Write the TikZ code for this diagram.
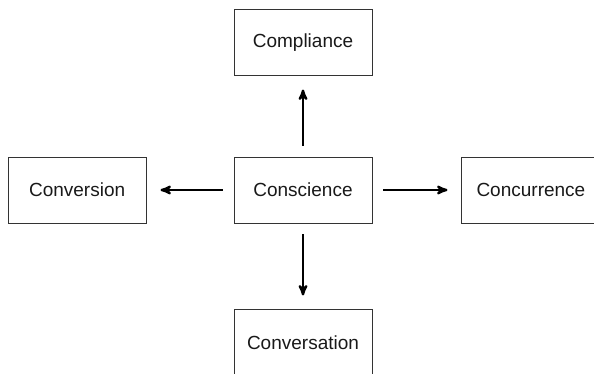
\documentclass[tikz,border=0pt]{standalone}
\usepackage{fontspec}
\setmainfont{Liberation Sans}
\usetikzlibrary{arrows}
\usetikzlibrary{positioning}

\begin{document}
\begin{tikzpicture}[->,>=stealth',auto,
                    main node/.style={rectangle,draw=black!80,line width=0.9pt,
                      minimum width=138pt,minimum height=66pt,inner sep=0pt,
                      text=black!90,font=\fontsize{19}{23}\selectfont},
                    link/.style={line width=2.4pt,shorten <=11pt,shorten >=14pt}]

  \useasboundingbox (0pt,0pt) rectangle (594pt,-374pt);
  \clip (0pt,0pt) rectangle (594pt,-374pt);

  \node[main node] (S) at (303pt,-190pt) {Conscience};

  \node[main node] (CP) [above=81pt of S] {Compliance};
  \node[main node] (CV) [left=87pt of S] {Conversion};
  \node[main node] (CR) [right=89pt of S] {Concurrence};
  \node[main node] (CS) [below=86pt of S] {Conversation};

  \draw[link]
  	(S) edge (CP)
  	(S) edge (CV)
  	(S) edge (CR)
  	(S) edge (CS)
  	;
\end{tikzpicture}
\end{document}
